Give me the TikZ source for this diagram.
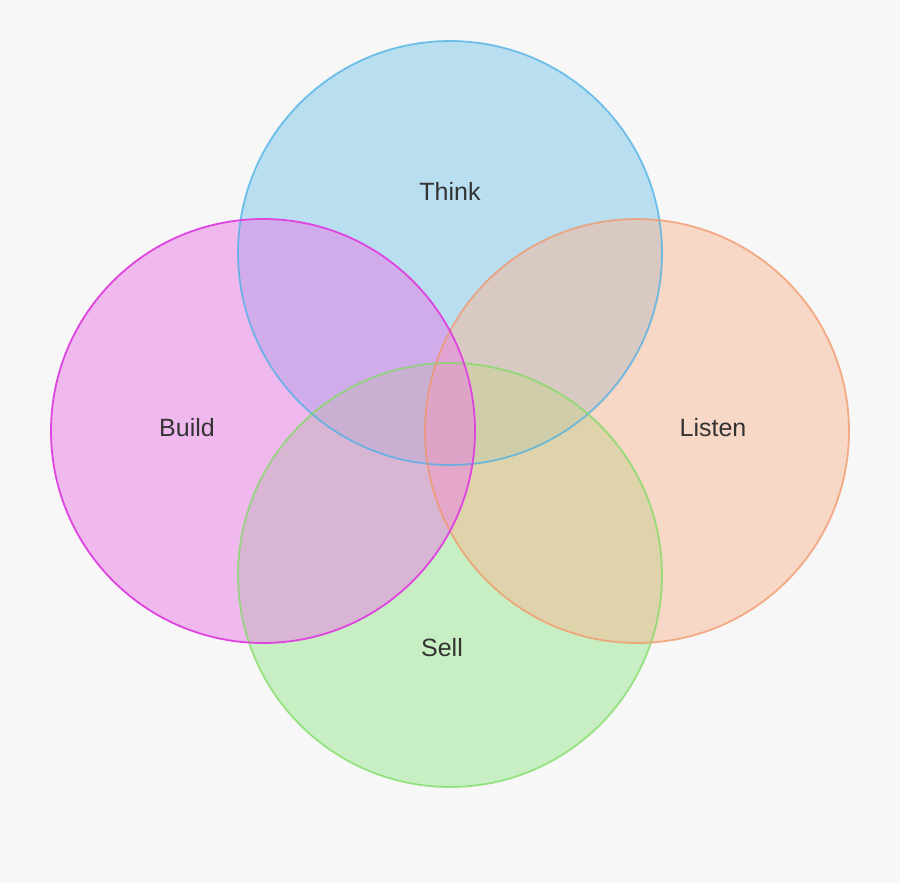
\documentclass[tikz,border=0pt]{standalone}
\usepackage{fontspec}
\setmainfont{Liberation Sans}
\definecolor{bg}{RGB}{247,247,247}
\definecolor{thinkfill}{RGB}{124,198,234}
\definecolor{thinkline}{RGB}{74,176,230}
\definecolor{buildfill}{RGB}{234,124,230}
\definecolor{buildline}{RGB}{222,68,222}
\definecolor{listenfill}{RGB}{247,184,150}
\definecolor{listenline}{RGB}{242,150,104}
\definecolor{sellfill}{RGB}{154,232,144}
\definecolor{sellline}{RGB}{126,220,100}
\definecolor{txt}{RGB}{51,51,51}
\begin{document}
\begin{tikzpicture}[x=1pt,y=-1pt,
  venn/.style={circle, minimum size=424pt, inner sep=0pt, fill opacity=0.5},
  rim/.style={line width=1.8pt, draw opacity=0.75},
  lbl/.style={font=\fontsize{25}{30}\selectfont, text=txt}]
\fill[bg] (0,0) rectangle (900,883);
\useasboundingbox (0,0) rectangle (900,883);
\node[venn, fill=thinkfill] (think) at (450,253) {};
\node[venn, fill=sellfill] (sell) at (450,575) {};
\node[venn, fill=listenfill] (listen) at (637,431) {};
\node[venn, fill=buildfill] (build) at (263,431) {};
\draw[rim, thinkline] (think.center) circle[radius=212pt];
\draw[rim, sellline] (sell.center) circle[radius=212pt];
\draw[rim, listenline] (listen.center) circle[radius=212pt];
\draw[rim, buildline, draw opacity=1] (build.center) circle[radius=212pt];
\node[lbl] (tthink) at (450,191) {Think};
\node[lbl] (tbuild) at (187,428) {Build};
\node[lbl] (tlisten) at (713,428) {Listen};
\node[lbl] (tsell) at (442,648) {Sell};
\end{tikzpicture}
\end{document}
